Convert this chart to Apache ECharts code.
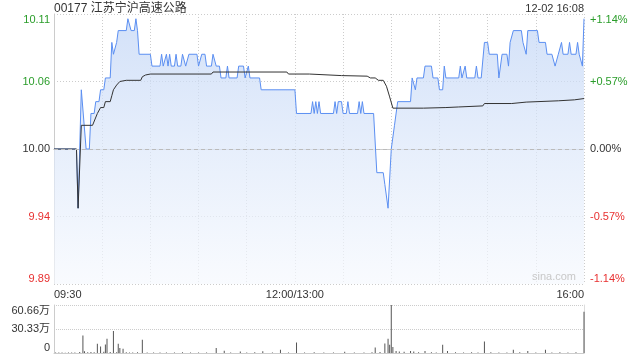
<!DOCTYPE html>
<html><head><meta charset="utf-8">
<script src="https://cdn.jsdelivr.net/npm/echarts@6/dist/echarts.min.js"></script>
<style>html,body{margin:0;padding:0;background:#fff}#c{width:640px;height:360px}</style>
</head><body><div id="c"></div>
<script>
const titleText = '00177 江苏宁沪高速公路';
const dateText = '12-02 16:08';
const prevClose = 10.00;
const priceTickLabels = ['9.89', '9.94', '10.00', '10.06', '10.11'];
const pctTickLabels = ['-1.14%', '-0.57%', '0.00%', '+0.57%', '+1.14%'];
const timeTickLabels = {0: '09:30', 150: '12:00/13:00', 330: '16:00'};
const volTickLabels = ['0', '30.33万', '60.66万'];

// minutes since 09:30 (trading minutes, lunch removed) and last price
const priceTimes = [0,14,15,17,18,20,22,23,25,26,28,29,31,32,35,36,37,38,39,40,45,46,47,48,50,51,52,53,60,61,66,67,68,69,70,71,72,73,75,76,77,79,80,81,82,83,84,89,90,91,92,94,95,98,99,100,101,103,104,107,108,109,114,115,118,119,120,121,122,128,129,150,151,160,161,162,163,164,165,166,174,175,176,177,179,180,182,183,184,189,190,191,192,193,199,201,205,206,207,208,210,212,213,214,222,223,224,225,226,230,231,235,236,239,240,242,243,244,252,253,254,255,256,257,262,263,264,266,268,270,271,276,277,279,282,283,284,285,286,291,292,294,295,301,302,306,307,310,312,313,314,316,317,320,321,322,325,326,327,328,329,330];
const prices = [10.00,10.00,9.95,10.05,10.05,10.00,10.00,10.03,10.03,10.04,10.04,10.05,10.05,10.06,10.06,10.09,10.08,10.08,10.09,10.10,10.10,10.11,10.11,10.10,10.10,10.11,10.10,10.08,10.08,10.07,10.07,10.08,10.07,10.07,10.08,10.07,10.08,10.07,10.07,10.08,10.07,10.07,10.08,10.08,10.07,10.07,10.08,10.08,10.07,10.07,10.08,10.08,10.07,10.07,10.08,10.08,10.07,10.07,10.06,10.06,10.07,10.06,10.06,10.07,10.07,10.06,10.06,10.07,10.06,10.06,10.05,10.05,10.03,10.03,10.04,10.03,10.04,10.03,10.04,10.03,10.03,10.04,10.03,10.04,10.04,10.03,10.03,10.04,10.03,10.03,10.04,10.03,10.04,10.03,10.03,9.98,9.98,9.97,9.97,9.95,10.00,10.02,10.02,10.04,10.04,10.06,10.06,10.05,10.06,10.06,10.07,10.07,10.06,10.06,10.05,10.05,10.07,10.06,10.06,10.07,10.06,10.06,10.07,10.06,10.06,10.07,10.06,10.06,10.09,10.09,10.08,10.08,10.06,10.08,10.08,10.07,10.09,10.09,10.10,10.10,10.09,10.08,10.10,10.10,10.09,10.09,10.08,10.08,10.07,10.07,10.08,10.09,10.08,10.08,10.09,10.08,10.08,10.09,10.08,10.08,10.07,10.11];

// average price line
const avgTimes = [0,14,15,17,24,27,29,31,32,35,36,37,39,41,45,54,55,57,60,98,99,145,146,159,160,179,180,195,197,200,202,205,207,209,211,230,231,244,245,252,253,267,268,285,286,294,295,314,315,324,325,330];
const avgPrices = [10.00,10.00,9.95,10.02,10.02,10.03,10.035,10.035,10.04,10.04,10.045,10.05,10.054,10.057,10.058,10.058,10.061,10.0625,10.0633,10.0633,10.065,10.065,10.0633,10.0633,10.062,10.062,10.0615,10.0615,10.060,10.060,10.058,10.058,10.053,10.044,10.0345,10.0345,10.035,10.035,10.0355,10.0355,10.0364,10.0364,10.0384,10.0384,10.0396,10.0396,10.0407,10.0407,10.0415,10.0415,10.0426,10.0426];

// volume, in 万 shares
const volTimes = [1,3,5,7,9,11,13,16,18,19,21,23,25,27,29,31,32,33,35,37,39,40,41,43,45,47,49,52,55,58,62,66,70,75,80,85,90,95,101,106,110,116,120,125,130,136,141,146,151,156,162,168,174,181,187,193,198,200,203,206,208,209,210,211,213,215,218,222,224,227,231,235,238,242,245,250,255,260,264,268,272,277,282,286,290,295,300,306,310,315,320,325,330];
const volumes = [0.6,0.5,0.6,0.4,0.5,0.6,0.5,1.2,22,2.1,1.0,1.3,0.8,11.6,8.3,1.5,10.8,17.9,1.2,27.8,1.0,11.6,6.2,5.4,0.8,0.6,0.7,0.9,16.6,0.6,0.5,0.7,0.6,0.5,0.8,0.5,0.6,0.7,6.2,2.9,0.7,2.0,0.6,0.8,2.2,0.6,4.0,0.7,13.3,0.6,0.8,0.5,0.7,1.5,0.6,0.7,0.8,7.0,1.2,12.0,17.9,10.4,60.66,7.5,2.5,2.0,1.5,2.5,2.0,1.0,2.5,0.8,0.7,10.4,2.5,0.8,0.7,0.9,0.6,14.5,0.8,0.7,0.6,4.0,0.8,2.5,0.7,4.0,0.6,0.8,0.7,1.0,52];

const GREEN = '#2a9d2a', RED = '#e83030', DARK = '#333';
const FONT = 'Arial, "Liberation Sans", "Noto Sans CJK SC", sans-serif';
const toPct = p => (p / prevClose - 1) * 100;
const priceData = priceTimes.map((t, i) => [t, toPct(prices[i])]);
const avgData = avgTimes.map((t, i) => [t, toPct(avgPrices[i])]);
const volData = volTimes.map((t, i) => [t, volumes[i]]);
const tickIdx = v => Math.round(v / 0.57) + 2;
const colorFor = i => i > 2 ? 'g' : (i < 2 ? 'r' : 'n');
const rich = {g: {color: GREEN, fontSize: 11, fontFamily: FONT}, r: {color: RED, fontSize: 11, fontFamily: FONT}, n: {color: DARK, fontSize: 11, fontFamily: FONT}};

const chart = echarts.init(document.getElementById('c'), null, {renderer: 'canvas'});
chart.setOption({
  animation: false,
  backgroundColor: '#fff',
  textStyle: {fontFamily: FONT},
  graphic: [
    {type: 'text', left: 54, top: 3, style: {text: titleText, fill: DARK, fontSize: 12, fontFamily: FONT}},
    {type: 'text', x: 584, y: 3, style: {text: dateText, fill: DARK, fontSize: 11, fontFamily: FONT, align: 'right', verticalAlign: 'top'}},
    {type: 'text', left: 532, top: 271, z: 100, style: {text: 'sina.com', fill: '#c8c8c8', fontSize: 11, fontFamily: FONT}}
  ],
  grid: [
    {left: 54, right: 56, top: 14, height: 270},
    {left: 54, right: 56, top: 305, height: 48}
  ],
  xAxis: [
    {type: 'value', gridIndex: 0, min: 0, max: 330, interval: 30,
     axisLine: {show: true, lineStyle: {color: '#ccc'}}, axisTick: {show: false},
     splitLine: {show: true, lineStyle: {color: '#ccc', type: [1, 2]}},
     axisLabel: {show: true, color: DARK, fontSize: 11, fontFamily: FONT, margin: 5,
       showMinLabel: true, showMaxLabel: true, alignMinLabel: 'left', alignMaxLabel: 'right',
       formatter: v => timeTickLabels[v] || ''}},
    {type: 'value', gridIndex: 0, position: 'top', min: 0, max: 330,
     axisLine: {show: true, lineStyle: {color: '#ccc'}}, axisTick: {show: false}, axisLabel: {show: false}, splitLine: {show: false}},
    {type: 'value', gridIndex: 1, min: 0, max: 330, interval: 30,
     axisLine: {show: true, lineStyle: {color: '#ccc'}}, axisTick: {show: false}, axisLabel: {show: false}, splitLine: {show: false}}
  ],
  yAxis: [
    {type: 'value', gridIndex: 0, min: -1.14, max: 1.14, interval: 0.57,
     axisLine: {show: true, lineStyle: {color: '#ccc'}}, axisTick: {show: false},
     splitLine: {show: true, lineStyle: {color: '#ccc', type: [1, 2]}},
     axisLabel: {margin: 4, verticalAlignMinLabel: 'bottom', verticalAlignMaxLabel: 'top',
       formatter: v => { const i = tickIdx(v); return '{' + colorFor(i) + '|' + priceTickLabels[i] + '}'; }, rich: rich}},
    {type: 'value', gridIndex: 0, position: 'right', min: -1.14, max: 1.14, interval: 0.57,
     axisLine: {show: false}, axisTick: {show: false}, splitLine: {show: false},
     axisLabel: {margin: 6, verticalAlignMinLabel: 'bottom', verticalAlignMaxLabel: 'top',
       formatter: v => { const i = tickIdx(v); return '{' + colorFor(i) + '|' + pctTickLabels[i] + '}'; }, rich: rich}},
    {type: 'value', gridIndex: 1, min: 0, max: 60.66, interval: 30.33,
     axisLine: {show: true, lineStyle: {color: '#ccc'}}, axisTick: {show: false},
     splitLine: {show: true, lineStyle: {color: '#ccc', type: [1, 1]}},
     axisLabel: {margin: 4, color: DARK, fontSize: 11, fontFamily: FONT, verticalAlignMinLabel: 'bottom', verticalAlignMaxLabel: 'top',
       formatter: v => volTickLabels[Math.round(v / 30.33)]}},
    {type: 'value', gridIndex: 1, position: 'right', min: 0, max: 60.66, interval: 30.33,
     axisLine: {show: true, lineStyle: {color: '#ddd'}}, axisTick: {show: false}, axisLabel: {show: false}, splitLine: {show: false}}
  ],
  series: [
    {type: 'line', xAxisIndex: 0, yAxisIndex: 0, data: priceData, showSymbol: false, z: 3,
     lineStyle: {color: '#5b8ff2', width: 1},
     areaStyle: {origin: 'start', color: new echarts.graphic.LinearGradient(0, 0, 0, 1, [
       {offset: 0, color: 'rgba(193,213,246,1)'}, {offset: 0.5, color: 'rgba(221,232,250,1)'}, {offset: 1, color: 'rgba(246,249,254,1)'}])},
     markLine: {silent: true, symbol: 'none', label: {show: false},
       lineStyle: {color: '#bbb', type: [4, 3], width: 1}, data: [{yAxis: 0}]}},
    {type: 'line', xAxisIndex: 0, yAxisIndex: 0, data: avgData, showSymbol: false, z: 4,
     lineStyle: {color: '#333', width: 1}},
    {type: 'bar', xAxisIndex: 2, yAxisIndex: 2, data: volData, barWidth: 1, itemStyle: {color: '#555'}}
  ]
});
</script></body></html>
